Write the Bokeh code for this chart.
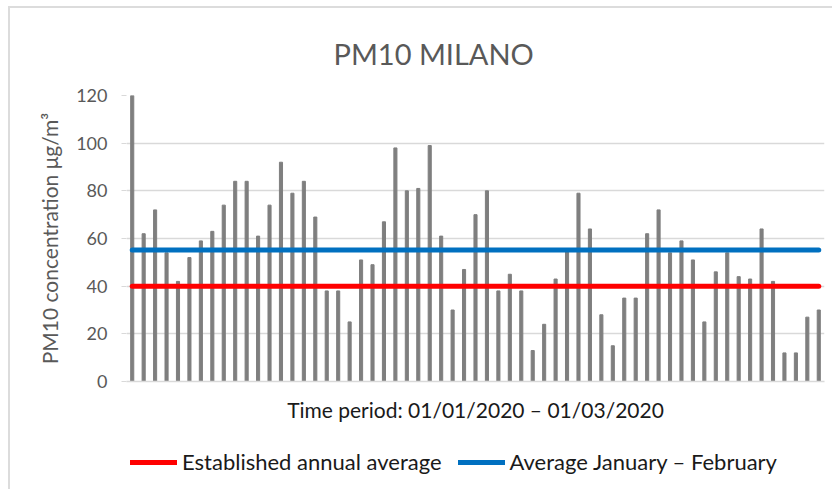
from bokeh.plotting import figure
from bokeh.layouts import column
from bokeh.models import ColumnDataSource, Legend, LegendItem, Range1d
from bokeh.embed import file_html
from bokeh.resources import INLINE

# Daily PM10 (µg/m3), Milano, 01/01/2020 - 01/03/2020
days = list(range(1, 62))
pm10 = [120, 62, 72, 54, 42, 52, 59, 63, 74, 84,
        84, 61, 74, 92, 79, 84, 69, 38, 38, 25,
        51, 49, 67, 98, 80, 81, 99, 61, 30, 47,
        70, 80, 38, 45, 38, 13, 24, 43, 55, 79,
        64, 28, 15, 35, 35, 62, 72, 54, 59, 51,
        25, 46, 54, 44, 43, 64, 42, 12, 12, 27, 30]
annual_avg = 40
jan_feb_avg = 55.2
y_ticks = [0, 20, 40, 60, 80, 100, 120]
legend_labels = ["Established annual average", "Average January – February"]
line_colors = ["#ff0000", "#0070c0"]
avg_values = [annual_avg, jan_feb_avg]

FONT = "Lato"
GRAY = "#595959"

src = ColumnDataSource(dict(day=days, pm10=pm10))

p = figure(width=822, height=421, output_backend="svg", toolbar_location=None,
           x_range=Range1d(days[0] - 0.5, days[-1] + 0.5), y_range=Range1d(0, 120),
           min_border_left=116, min_border_right=8, min_border_top=86, min_border_bottom=48,
           title="PM10 MILANO")
p.outline_line_color = None
p.background_fill_color = "white"
p.border_fill_color = "white"

p.title.text_font = FONT
p.title.text_font_size = "29px"
p.title.text_font_style = "normal"
p.title.text_color = GRAY
p.title.align = "left"
p.title.offset = 207
p.title.standoff = 50

p.vbar(x="day", top="pm10", width=0.27, source=src, color="#7f7f7f")

for v, c in zip(avg_values, line_colors):
    p.line(x=[days[0], days[-1]], y=[v, v], line_color=c, line_width=5, line_cap="round")

# grid
p.xgrid.grid_line_color = None
p.ygrid.grid_line_color = "#d9d9d9"
p.ygrid.grid_line_width = 1.5
p.ygrid.ticker = y_ticks

# y axis
p.yaxis.ticker = y_ticks
p.yaxis.axis_line_color = None
p.yaxis.major_tick_line_color = "#d9d9d9"
p.yaxis.major_tick_out = 5
p.yaxis.major_tick_in = 0
p.yaxis.minor_tick_line_color = None
p.yaxis.major_label_text_font = FONT
p.yaxis.major_label_text_font_size = "18px"
p.yaxis.major_label_text_color = GRAY
p.yaxis.major_label_standoff = 14
p.yaxis.axis_label = "PM10 concentration μg/m³"
p.yaxis.axis_label_text_font = FONT
p.yaxis.axis_label_text_font_size = "21px"
p.yaxis.axis_label_text_font_style = "normal"
p.yaxis.axis_label_text_color = GRAY
p.yaxis.axis_label_standoff = 11

# x axis
p.xaxis.ticker = []
p.xaxis.axis_line_color = "#d9d9d9"
p.xaxis.axis_line_width = 1.5
p.xaxis.major_tick_line_color = None
p.xaxis.minor_tick_line_color = None
p.xaxis.major_label_text_font_size = "0px"
p.xaxis.axis_label = "Time period: 01/01/2020 – 01/03/2020"
p.xaxis.axis_label_text_font = FONT
p.xaxis.axis_label_text_font_size = "21px"
p.xaxis.axis_label_text_font_style = "normal"
p.xaxis.axis_label_text_color = "#1a1a1a"
p.xaxis.axis_label_standoff = 15

# legend strip below the chart (its lines lie outside its range; only the legend shows)
pl = figure(width=822, height=60, output_backend="svg", toolbar_location=None,
            x_range=Range1d(0, 1), y_range=Range1d(0, 1),
            x_axis_type=None, y_axis_type=None,
            min_border_left=0, min_border_right=0, min_border_top=0, min_border_bottom=0)
pl.outline_line_color = None
pl.xgrid.grid_line_color = None
pl.ygrid.grid_line_color = None
leg_r = [pl.line(x=[days[0], days[-1]], y=[v, v], line_color=c, line_width=5, line_cap="round")
         for v, c in zip(avg_values, line_colors)]

legend = Legend(items=[LegendItem(label=lab, renderers=[r]) for lab, r in zip(legend_labels, leg_r)],
                orientation="horizontal", location=(4, 14),
                glyph_width=47, glyph_height=20, label_standoff=5, spacing=16,
                padding=0, margin=0, border_line_color=None, background_fill_alpha=0,
                label_text_font=FONT, label_text_font_size="22px", label_text_color="#1a1a1a")
pl.add_layout(legend)

layout = column(p, pl, spacing=0)
layout.styles = {"border-top": "2px solid #dcdcdc", "border-left": "2px solid #dcdcdc",
                 "position": "relative", "left": "8px", "top": "6px"}

open("out.html", "w").write(file_html(layout, INLINE))
